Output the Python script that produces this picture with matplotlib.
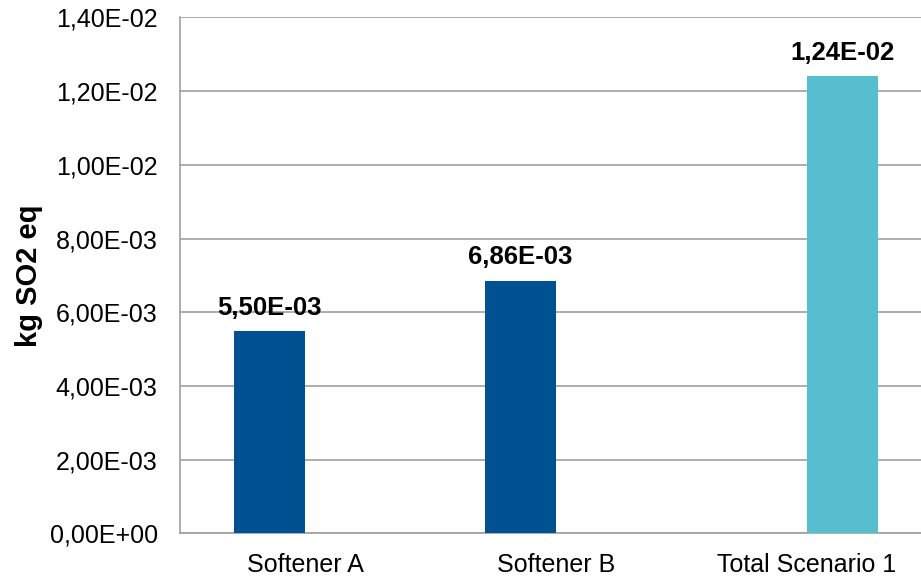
import numpy as np
import matplotlib
matplotlib.use('Agg')
from matplotlib import pyplot as plt
from matplotlib.ticker import FuncFormatter

plt.rcParams['font.family'] = ['Liberation Sans', 'DejaVu Sans']

categories = ['Softener A', 'Softener B', 'Total Scenario 1']
softeners = [5.50e-3, 6.86e-3, 0.0]
total = [0.0, 0.0, 1.24e-2]
yticks = np.arange(0, 0.0141, 0.002)


def sci_comma(v, pos=None):
    return '{:.2E}'.format(v).replace('.', ',')


fig = plt.figure(figsize=(9.21, 5.79), dpi=100)
ax = fig.add_axes([0.1954, 0.0786, 0.8165, 0.8915])

x = np.arange(len(categories))
w = 0.284
b1 = ax.bar(x - w / 2, softeners, w, color='#005192', zorder=3)
b2 = ax.bar(x + w / 2, total, w, color='#56BECF', zorder=3)

# value labels above the non-empty bars
for bars, vals in ((b1, softeners), (b2, total)):
    for rect, v in zip(bars, vals):
        if v > 0:
            ax.annotate(sci_comma(v),
                        (rect.get_x() + rect.get_width() / 2, v),
                        xytext=(0, 8), textcoords='offset points',
                        ha='center', va='bottom', fontsize=18.5,
                        fontweight='bold')

ax.set_xlim(-0.5, 2.5)
ax.set_ylim(0, 0.014)
ax.set_yticks(yticks)
ax.yaxis.set_major_formatter(FuncFormatter(sci_comma))
ax.set_xticks(x)
ax.set_xticklabels(categories)
ax.tick_params(axis='y', length=0, pad=16, labelsize=18)
ax.tick_params(axis='x', length=0, pad=14, labelsize=18)
ax.grid(axis='y', color='#A0A0A0', linewidth=1.2, zorder=0)
for s in ('top', 'right'):
    ax.spines[s].set_visible(False)
for s in ('left', 'bottom'):
    ax.spines[s].set_color('#A0A0A0')
    ax.spines[s].set_linewidth(1.2)

ax.set_ylabel('kg SO2 eq', fontsize=21, fontweight='bold', labelpad=5)

fig.savefig('out.png', dpi=100)
